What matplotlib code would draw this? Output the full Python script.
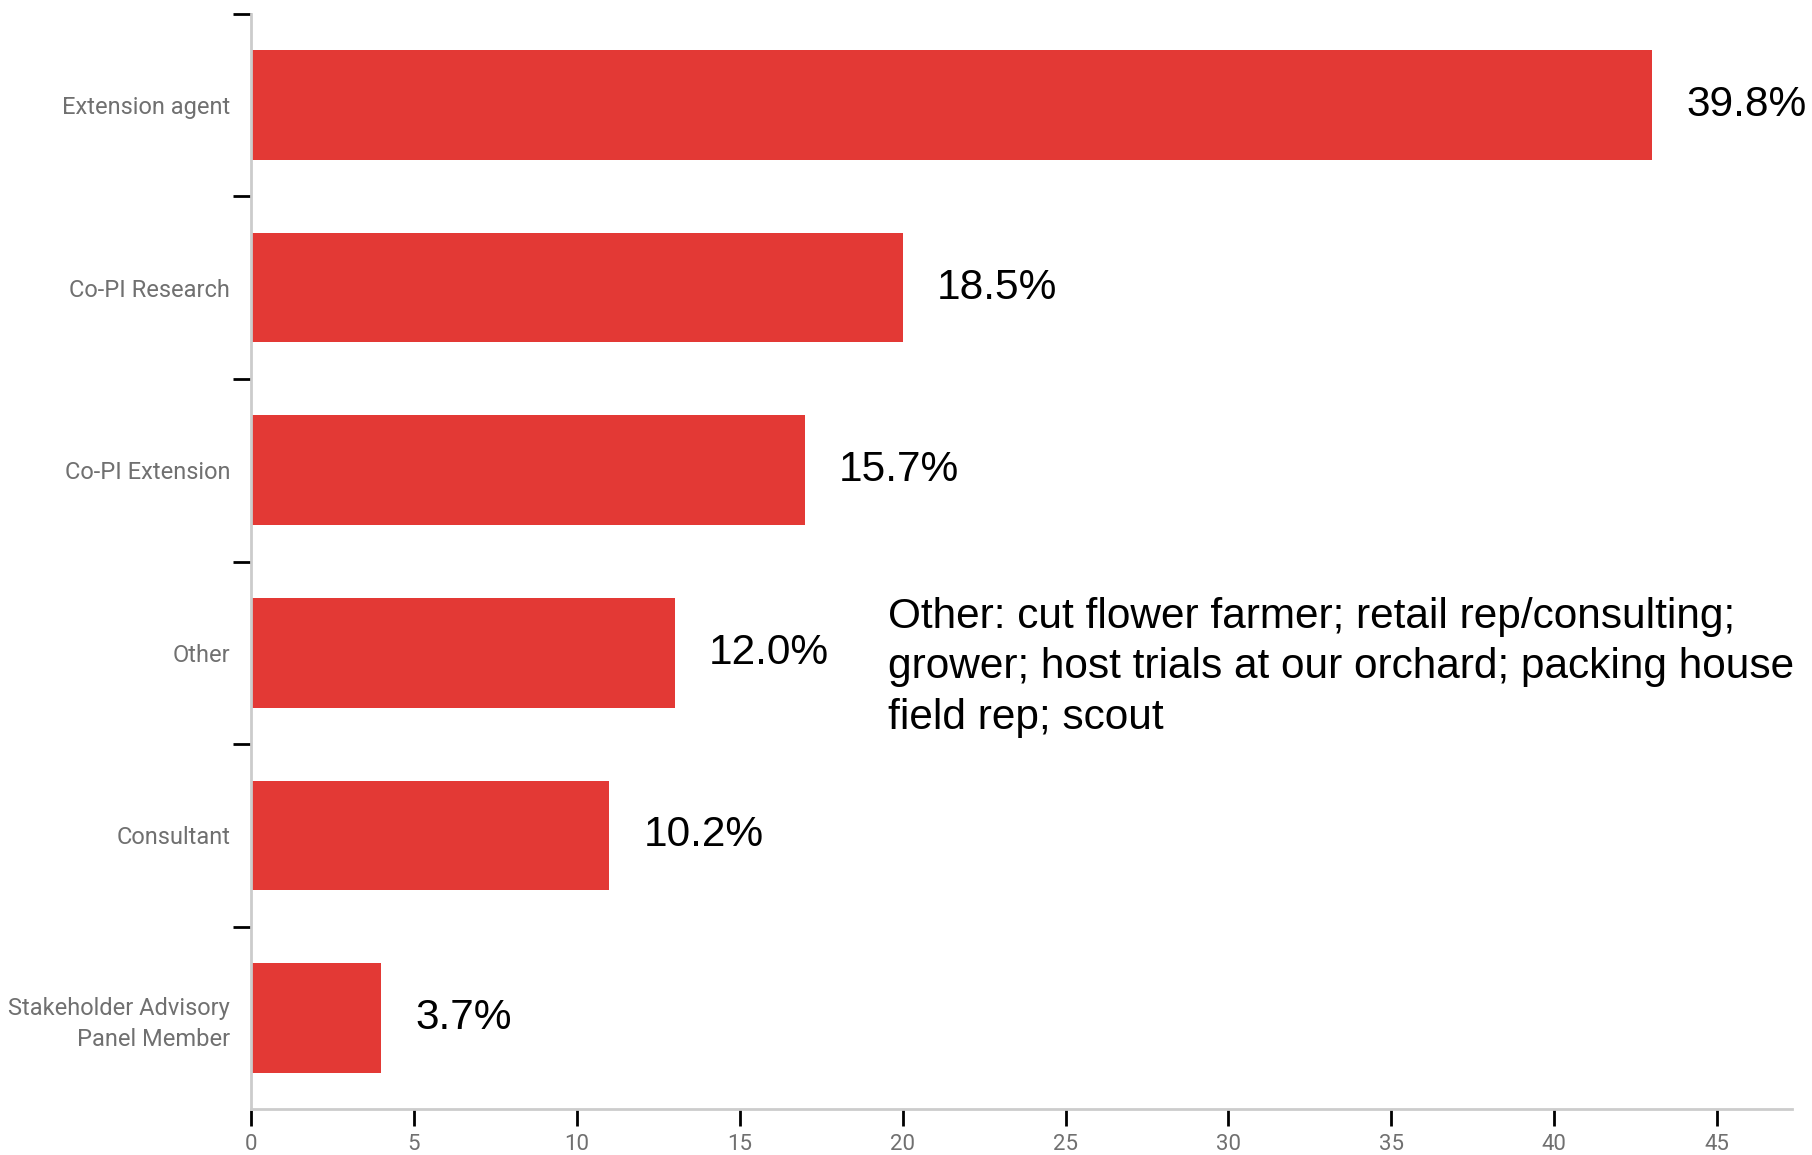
import matplotlib
matplotlib.use('Agg')
import matplotlib.pyplot as plt
from matplotlib.ticker import FixedLocator

roles = ['Extension agent', 'Co-PI Research', 'Co-PI Extension', 'Other',
         'Consultant', 'Stakeholder Advisory\nPanel Member']
counts = [43, 20, 17, 13, 11, 4]
shares = ['39.8%', '18.5%', '15.7%', '12.0%', '10.2%', '3.7%']
other_note = ('Other: cut flower farmer; retail rep/consulting;\n'
              'grower; host trials at our orchard; packing house\n'
              'field rep; scout')

bar_colour = '#e33935'
label_grey = '#707070'

fig = plt.figure(figsize=(18.12, 11.55), dpi=100)
ax = fig.add_axes([0.1385, 0.0398, 0.8505, 0.9481])

pos = list(range(len(roles)))
ax.barh(pos, counts, height=0.6, color=bar_colour)

for p, c, s in zip(pos, counts, shares):
    ax.text(c + 1.05, p, s, ha='left', va='center', fontsize=30.5,
            family='Liberation Sans', color='black')

ax.text(19.55, 3.08, other_note, ha='left', va='center', fontsize=30.5,
        family='Liberation Sans', color='black', linespacing=1.33)

ax.set_ylim(5.5, -0.5)
ax.set_xlim(0, 47.3)

ax.set_yticks(pos)
ax.set_yticklabels(roles, fontsize=17, family='Roboto', color=label_grey,
                   ha='right', linespacing=1.45)
ax.tick_params(axis='y', which='major', length=0, pad=15)
ax.yaxis.set_minor_locator(FixedLocator([p - 0.5 for p in pos]))
ax.tick_params(axis='y', which='minor', length=13, width=2, color='black')

ax.set_xticks(range(0, 50, 5))
ax.tick_params(axis='x', length=12, width=2, color='black', pad=6,
               labelsize=16, labelcolor=label_grey)
for t in ax.get_xticklabels():
    t.set_family('Roboto')

for side in ('top', 'right'):
    ax.spines[side].set_visible(False)
for side in ('left', 'bottom'):
    ax.spines[side].set_color('#cccccc')
    ax.spines[side].set_linewidth(2)

fig.savefig('out.png', dpi=100)
